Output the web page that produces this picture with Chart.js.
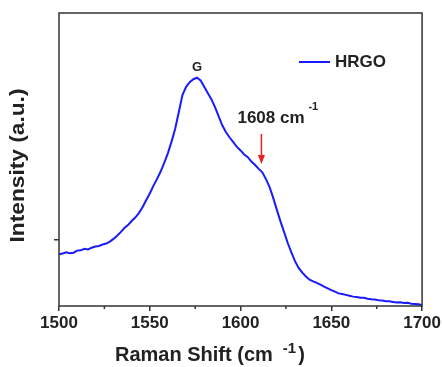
<!DOCTYPE html>
<html>
<head>
<meta charset="utf-8">
<script src="https://cdn.jsdelivr.net/npm/chart.js@4"></script>
<style>
  body { margin: 0; background: #fff; }
  #c { display: block; }
</style>
</head>
<body>
<canvas id="c" width="443" height="367"></canvas>
<script>
const ramanShift = [1500, 1502, 1504, 1506, 1508, 1510, 1512, 1514, 1516, 1518,
                    1520, 1522, 1524, 1526, 1528, 1530, 1532, 1534, 1536, 1538,
                    1540, 1542, 1544, 1546, 1548, 1550, 1552, 1554, 1556, 1558,
                    1560, 1562, 1564, 1566, 1568, 1570, 1572, 1574, 1576, 1578,
                    1580, 1582, 1584, 1586, 1588, 1590, 1592, 1594, 1596, 1598,
                    1600, 1602, 1604, 1606, 1608, 1610, 1612, 1614, 1616, 1618,
                    1620, 1622, 1624, 1626, 1628, 1630, 1632, 1634, 1636, 1638,
                    1640, 1642, 1644, 1646, 1648, 1650, 1652, 1654, 1656, 1658,
                    1660, 1662, 1664, 1666, 1668, 1670, 1672, 1674, 1676, 1678,
                    1680, 1682, 1684, 1686, 1688, 1690, 1692, 1694, 1696, 1698, 1700];
const intensity = [17.7, 17.9, 18.3, 18.0, 18.2, 18.9, 19.0, 19.5, 19.3, 19.9,
                   20.3, 20.5, 21.0, 21.3, 22.0, 22.9, 24.0, 25.2, 26.6, 27.6,
                   29.0, 30.2, 31.7, 33.7, 36.1, 38.4, 41.0, 43.4, 45.9, 48.9,
                   52.2, 56.1, 60.5, 66.2, 72.0, 74.8, 76.4, 77.4, 77.9, 77.0,
                   74.8, 72.6, 70.5, 67.8, 64.6, 61.6, 59.3, 57.5, 55.9, 54.3,
                   53.1, 51.7, 50.8, 49.3, 48.1, 46.8, 45.6, 43.3, 40.6, 36.9,
                   32.8, 28.9, 25.2, 21.5, 18.3, 15.3, 13.0, 11.4, 10.1, 9.0,
                   8.4, 7.9, 7.3, 6.6, 6.0, 5.4, 4.9, 4.3, 4.1, 3.8,
                   3.5, 3.2, 3.1, 2.8, 2.8, 2.5, 2.3, 2.2, 2.0, 1.9,
                   1.6, 1.6, 1.4, 1.2, 1.3, 1.0, 1.1, 0.8, 0.7, 0.6, 0.3];
const xMajorTicks = [1500, 1550, 1600, 1650, 1700];
const xMinorTicks = [1525, 1575, 1625, 1675];
const yTicks = [22.5];

const FONT = '"Liberation Sans", Arial, sans-serif';
const INK = '#222';

// labels, arrow, legend, frame and axis titles
const extras = {
  id: 'extras',
  afterDatasetsDraw(chart) {
    const { ctx, chartArea: a, scales: { x, y } } = chart;
    ctx.save();
    ctx.strokeStyle = '#333';
    ctx.lineWidth = 1.5;
    ctx.strokeRect(a.left, a.top, a.right - a.left, a.bottom - a.top);
    xMinorTicks.forEach(v => {
      const px = x.getPixelForValue(v);
      ctx.beginPath();
      ctx.moveTo(px, a.bottom);
      ctx.lineTo(px, a.bottom + 3);
      ctx.stroke();
    });

    // legend
    const ds = chart.data.datasets[0];
    ctx.strokeStyle = ds.borderColor;
    ctx.lineWidth = 2;
    ctx.beginPath();
    ctx.moveTo(a.left + 240, a.top + 49);
    ctx.lineTo(a.left + 271, a.top + 49);
    ctx.stroke();
    ctx.fillStyle = INK;
    ctx.textBaseline = 'middle';
    ctx.font = 'bold 17px ' + FONT;
    ctx.fillText(ds.label, a.left + 276, a.top + 49);

    // G peak label
    const peak = Math.max(...intensity);
    const peakX = ramanShift[intensity.indexOf(peak)];
    ctx.textBaseline = 'alphabetic';
    ctx.textAlign = 'center';
    ctx.font = 'bold 13px ' + FONT;
    ctx.fillText('G', x.getPixelForValue(peakX), y.getPixelForValue(peak) - 7);

    // shoulder arrow
    const ax = x.getPixelForValue(1611.5);
    const tip = y.getPixelForValue(48.5);
    const tail = y.getPixelForValue(58.7);
    ctx.strokeStyle = '#e8201c';
    ctx.fillStyle = '#e8201c';
    ctx.lineWidth = 1.5;
    ctx.beginPath();
    ctx.moveTo(ax, tail);
    ctx.lineTo(ax, tip - 8);
    ctx.stroke();
    ctx.beginPath();
    ctx.moveTo(ax - 3.5, tip - 9);
    ctx.lineTo(ax + 3.5, tip - 9);
    ctx.lineTo(ax, tip);
    ctx.closePath();
    ctx.fill();

    ctx.fillStyle = INK;
    ctx.textAlign = 'left';
    ctx.font = 'bold 17px ' + FONT;
    ctx.fillText('1608 cm', ax - 24, tail - 11);
    ctx.font = 'bold 11px ' + FONT;
    ctx.fillText('-1', ax + 47, tail - 24);

    // x title
    let tx = a.left + 56;
    const ty = 361;
    ctx.font = 'bold 20px ' + FONT;
    ctx.fillText('Raman Shift (cm', tx, ty);
    tx += ctx.measureText('Raman Shift (cm').width + 10;
    ctx.font = 'bold 15px ' + FONT;
    ctx.fillText('-1', tx, ty - 8);
    tx += ctx.measureText('-1').width + 2;
    ctx.font = 'bold 20px ' + FONT;
    ctx.fillText(')', tx, ty);

    // y title
    ctx.translate(18, (a.top + a.bottom) / 2 + 6);
    ctx.rotate(-Math.PI / 2);
    ctx.font = 'bold 20px ' + FONT;
    const label = 'Intensity (a.u.)';
    const w = ctx.measureText(label).width;
    ctx.scale(154 / w, 1);
    ctx.textAlign = 'center';
    ctx.textBaseline = 'middle';
    ctx.fillText(label, 0, 0);
    ctx.restore();
  }
};

new Chart(document.getElementById('c').getContext('2d'), {
  type: 'line',
  data: {
    datasets: [{
      label: 'HRGO',
      data: ramanShift.map((v, i) => ({ x: v, y: intensity[i] })),
      borderColor: '#1a1aff',
      borderWidth: 2,
      pointRadius: 0,
      tension: 0,
      fill: false
    }]
  },
  options: {
    responsive: false,
    animation: false,
    layout: { padding: { top: 13, right: 20, left: 0, bottom: 0 } },
    plugins: {
      legend: { display: false },
      tooltip: { enabled: false }
    },
    scales: {
      x: {
        type: 'linear',
        min: 1500,
        max: 1700,
        afterBuildTicks: s => { s.ticks = xMajorTicks.map(v => ({ value: v })); },
        afterFit: s => { s.height = 61; },
        ticks: {
          autoSkip: false,
          maxRotation: 0,
          padding: 2,
          color: INK,
          font: { family: FONT, size: 17, weight: 'bold' },
          callback: v => String(v)
        },
        grid: { drawOnChartArea: false, tickLength: 5, color: '#333', lineWidth: 1.5 },
        border: { display: false }
      },
      y: {
        min: 0,
        max: 100,
        afterBuildTicks: s => { s.ticks = yTicks.map(v => ({ value: v })); },
        afterFit: s => { s.width = 59; },
        ticks: { display: false },
        grid: { drawOnChartArea: false, tickLength: 5, color: '#333', lineWidth: 1.5 },
        border: { display: false }
      }
    }
  },
  plugins: [extras]
});
</script>
</body>
</html>
